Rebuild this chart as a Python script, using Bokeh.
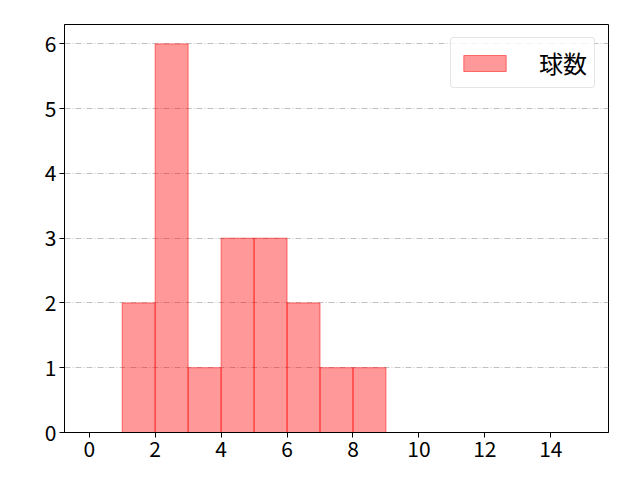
from bokeh.plotting import figure
from bokeh.models import Range1d, FixedTicker, Legend, LegendItem
from bokeh.embed import file_html
from bokeh.resources import INLINE

# histogram of pitch counts
bin_edges = [1, 2, 3, 4, 5, 6, 7, 8, 9]
counts = [2, 6, 1, 3, 3, 2, 1, 1]
x_ticks = [0, 2, 4, 6, 8, 10, 12, 14]
y_ticks = [0, 1, 2, 3, 4, 5, 6]
label = "球数"

FONT = "Noto Sans CJK JP"

p = figure(width=624, height=464, output_backend="svg", toolbar_location=None,
           x_range=Range1d(-0.75, 15.75), y_range=Range1d(0, 6.3),
           min_border_left=64, min_border_right=16, min_border_top=24, min_border_bottom=32)

bars = p.quad(left=bin_edges[:-1], right=bin_edges[1:], bottom=0, top=counts,
              fill_color="#ff0000", fill_alpha=0.4, line_color="#ff0000", line_alpha=0.5, line_width=1)

p.xaxis.ticker = FixedTicker(ticks=x_ticks)
p.yaxis.ticker = FixedTicker(ticks=y_ticks)
for ax in (p.xaxis, p.yaxis):
    ax.major_label_text_font = FONT
    ax.major_label_text_font_size = "21px"
    ax.major_label_text_color = "#000000"
    ax.major_label_standoff = 3
    ax.axis_line_color = "#000000"
    ax.major_tick_line_color = "#000000"
    ax.major_tick_out = 5
    ax.major_tick_in = 0
    ax.minor_tick_line_color = None

p.xgrid.grid_line_color = None
p.ygrid.grid_line_color = "#b0b0b0"
p.ygrid.grid_line_dash = "6 2 1 2"
p.ygrid.grid_line_width = 0.8

p.outline_line_color = "#000000"
p.outline_line_width = 1
p.outline_line_alpha = 1

legend = Legend(items=[LegendItem(label=label, renderers=[bars])], location="top_right")
legend.label_text_font = FONT
legend.label_text_font_size = "24px"
legend.label_text_color = "#000000"
legend.label_height = 20
legend.glyph_width = 53
legend.glyph_height = 20
legend.label_standoff = 28
legend.border_line_color = "#cccccc"
legend.border_radius = 4
legend.margin = 13
legend.padding = 7
legend.background_fill_alpha = 0.8
p.add_layout(legend)

open("out.html", "w").write(file_html(p, INLINE))
